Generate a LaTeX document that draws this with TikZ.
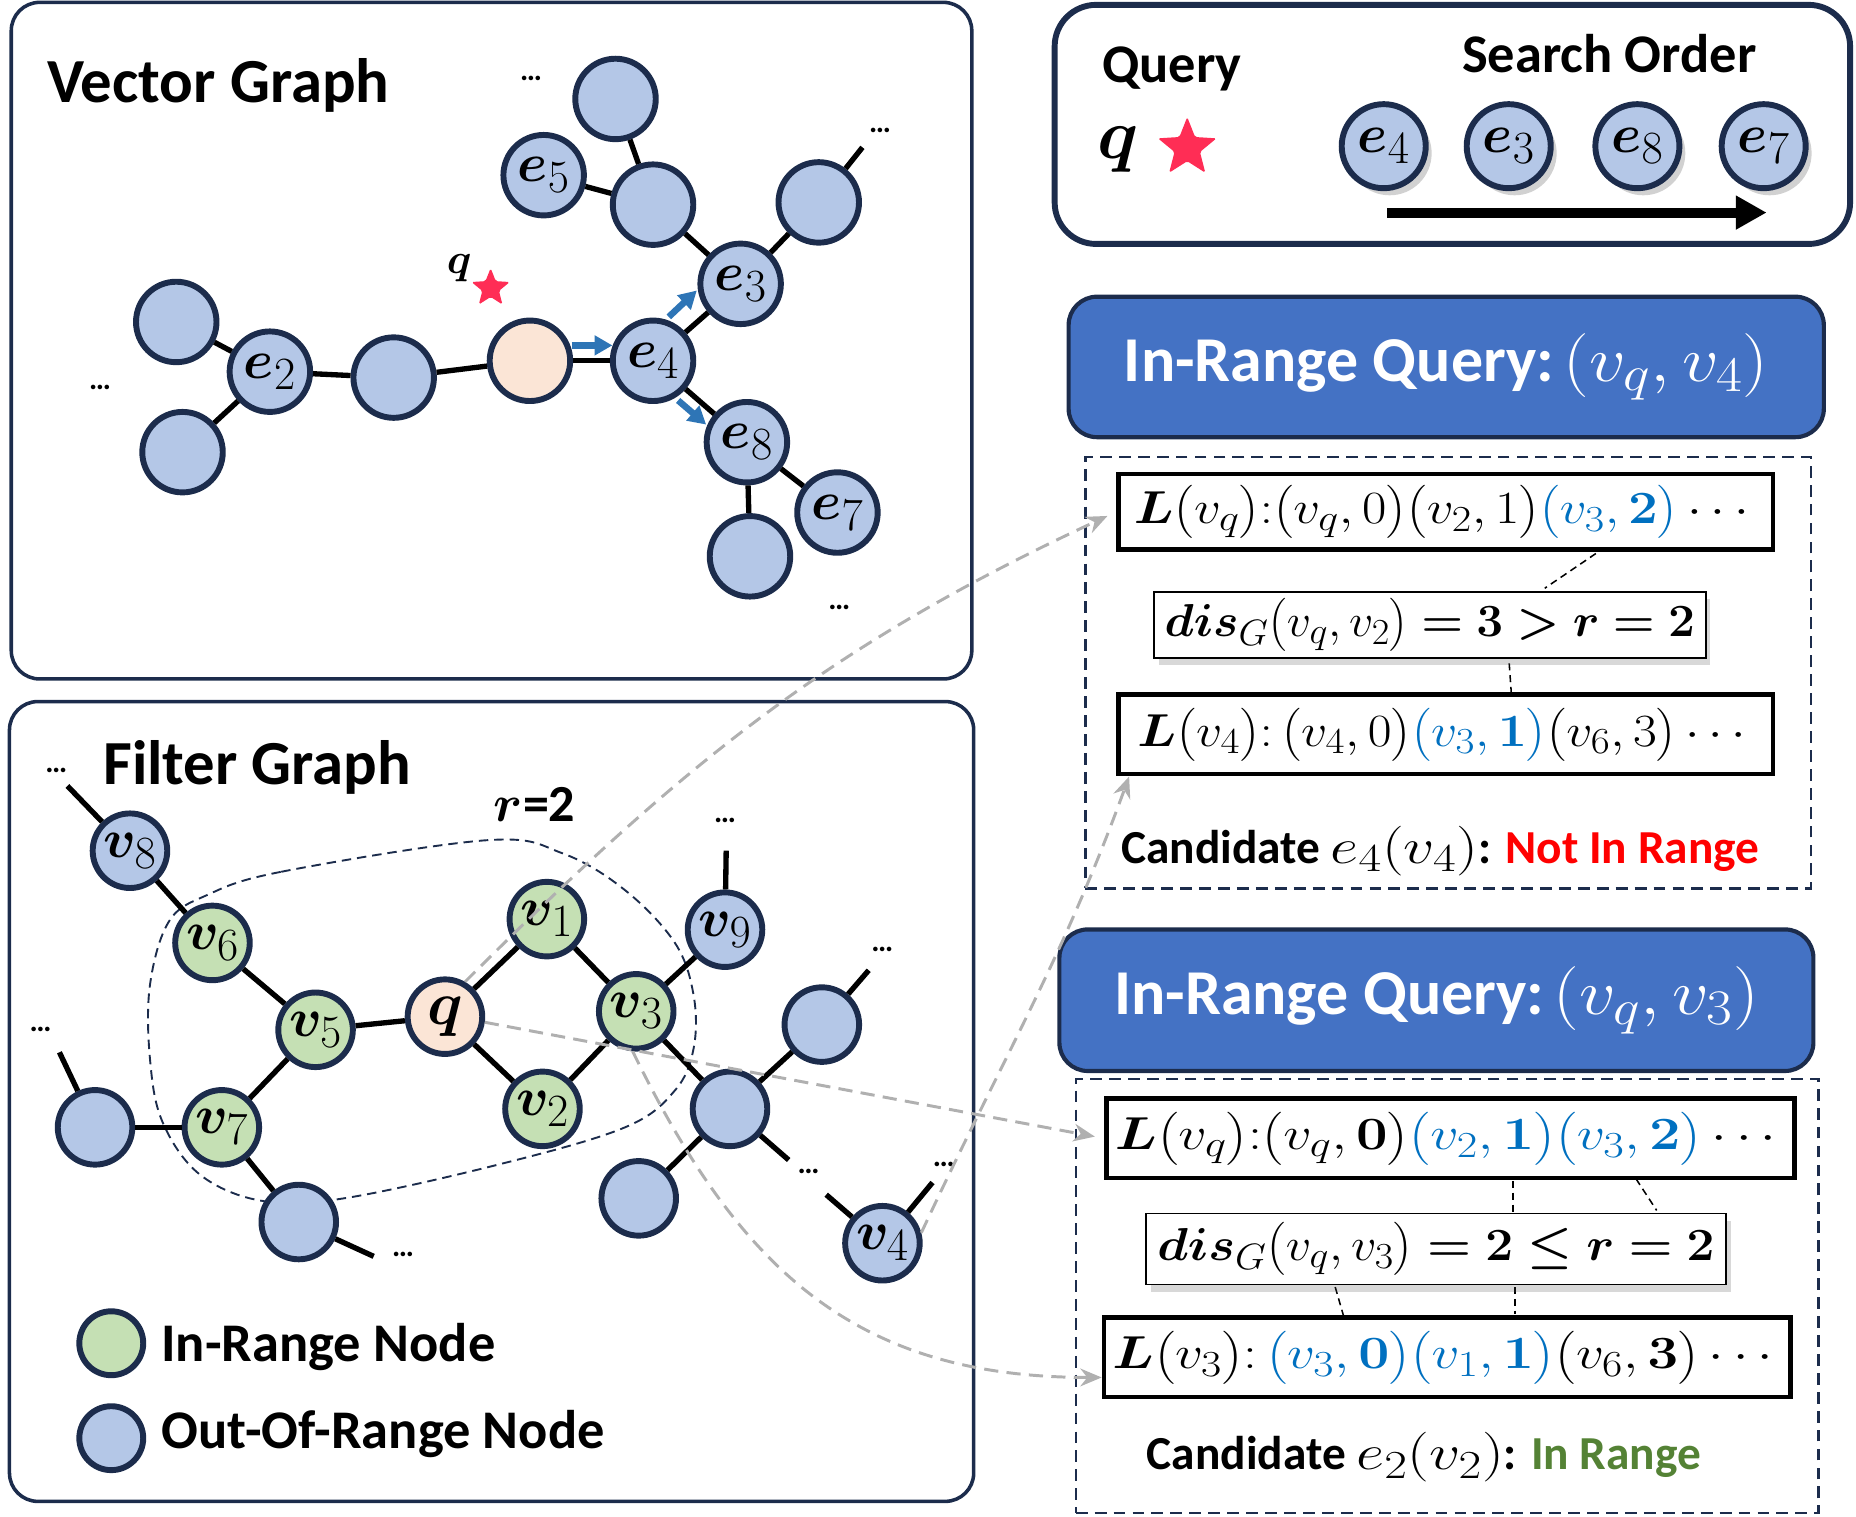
\RequirePackage{fix-cm}
\documentclass[tikz,border=0pt]{standalone}
\usepackage{amsmath}
\usepackage{bm}
\usepackage{graphicx}
\usepackage[no-math]{fontspec}
\setmainfont{Carlito}
\usetikzlibrary{shapes.geometric,arrows.meta,shadows,backgrounds}
\DeclareMathSizes{46}{46}{39}{30}
\DeclareMathSizes{52}{52}{42}{32}
\DeclareMathSizes{54}{54}{42}{32}
\DeclareMathSizes{39}{39}{31}{25}
\DeclareMathSizes{40}{40}{32}{26}
\DeclareMathSizes{44}{44}{35}{28}
\DeclareMathSizes{60}{60}{46}{36}
\DeclareMathSizes{36}{36}{28}{22}
\definecolor{navy}{HTML}{1C2C4C}
\definecolor{nblue}{HTML}{B4C7E7}
\definecolor{ngreen}{HTML}{C5E0B4}
\definecolor{npeach}{HTML}{FBE5D6}
\definecolor{boxblue}{HTML}{4472C4}
\definecolor{tblue}{HTML}{0070C0}
\definecolor{tgreen}{HTML}{548235}
\definecolor{arrblue}{HTML}{2E75B6}
\definecolor{starred}{HTML}{FF2D55}
\definecolor{ggray}{HTML}{B0B0B0}
\newcommand{\fsz}[1]{\fontsize{#1}{#1}\selectfont}
\begin{document}
\begin{tikzpicture}[x=1pt,y=-1pt,
  panel/.style={draw=navy, line width=3pt, rounded corners=24pt, inner sep=0pt},
  gnode/.style={circle, draw=navy, line width=5pt, fill=nblue, minimum size=68pt, inner sep=0pt, font=\fsz{46}},
  fnode/.style={gnode, minimum size=63pt},
  snode/.style={gnode, minimum size=71pt, drop shadow={shadow xshift=5pt, shadow yshift=-6pt, opacity=0.3, fill=black!60}},
  lgnode/.style={gnode, minimum size=54pt},
  link/.style={line width=4.5pt, black},
  dotlbl/.style={font=\fsz{26}\bfseries, inner sep=0pt},
  barr/.style={line width=5.5pt, arrblue, -{Triangle[length=15pt,width=16pt]}},
  garr/.style={draw=ggray, line width=2.5pt, dash pattern=on 12pt off 7pt, -{Stealth[length=18pt,width=15pt]}},
  lbox/.style={draw=black, line width=4pt, inner sep=0pt, fill=white, font=\fsz{39}},
  disbox/.style={draw=black, line width=1.5pt, fill=white, inner sep=0pt, font=\fsz{39}, drop shadow={shadow xshift=4pt, shadow yshift=-6pt, opacity=0.22, fill=black!70}},
  qbox/.style={draw=navy, line width=3.5pt, fill=boxblue, rounded corners=24pt, text=white, font=\fsz{54}\bfseries, inner sep=0pt},
  dashbox/.style={draw=navy, line width=2pt, dash pattern=on 10pt off 6pt, inner sep=0pt},
  sdash/.style={black, line width=1.3pt, dash pattern=on 6pt off 4pt},
  ttl/.style={anchor=base west, inner sep=0pt, font=\fsz{53}\bfseries},
  cand/.style={anchor=base west, inner sep=0pt, font=\fsz{40}\bfseries},
  starnode/.style={star, star points=5, star point ratio=2.3, fill=starred, inner sep=0pt, rounded corners=1.5pt}]
\useasboundingbox (0,0) rectangle (1568,1281);

% ---------------- panels
\node[panel, minimum width=811.5pt, minimum height=571.6pt] (vp) at (415.25,287.8) {};
\node[panel, minimum width=814.6pt, minimum height=675.7pt] (fp) at (415.3,930.55) {};
\node[draw=navy, line width=5pt, rounded corners=35pt, minimum width=672pt, minimum height=202pt, inner sep=0pt] (qp) at (1227,105.1) {};

% ---------------- vector graph
\node[ttl] (vt) at (39.6,86.2) {Vector Graph};
\node[gnode] (tb) at (520,83.6) {};
\node[gnode] (e5) at (459.3,148) {$\bm{e}_{5}$};
\node[gnode] (b1) at (551.7,172.9) {};
\node[gnode] (rb) at (691.7,171) {};
\node[gnode] (e3) at (625.7,239.8) {$\bm{e}_{3}$};
\node[gnode] (e4) at (551.7,304.8) {$\bm{e}_{4}$};
\node[gnode, fill=npeach] (pk) at (447.7,304.8) {};
\node[gnode] (m) at (332.6,319) {};
\node[gnode] (e2) at (228,314) {$\bm{e}_{2}$};
\node[gnode] (tl) at (148.9,272) {};
\node[gnode] (bl) at (154.2,382) {};
\node[gnode] (e8) at (631,373.6) {$\bm{e}_{8}$};
\node[gnode] (e7) at (707.5,433) {$\bm{e}_{7}$};
\node[gnode] (bb) at (633.6,470) {};
\coordinate (rbe) at (728.6,124.5);
\node[dotlbl] (vd1) at (448.7,66) {…};
\node[dotlbl] (vd2) at (743.5,110) {…};
\node[dotlbl] (vd3) at (84.5,327.5) {…};
\node[dotlbl] (vd4) at (709,513.6) {…};
\draw[link] (tl) -- (e2);
\draw[link] (bl) -- (e2);
\draw[link] (e2) -- (m);
\draw[link] (m) -- (pk);
\draw[link] (pk) -- (e4);
\draw[link] (e4) -- (e3);
\draw[link] (e3) -- (b1);
\draw[link] (e3) -- (rb);
\draw[link] (b1) -- (e5);
\draw[link] (b1) -- (tb);
\draw[link] (e4) -- (e8);
\draw[link] (e8) -- (e7);
\draw[link] (e8) -- (bb);
\draw[link] (rb) -- (rbe);
\node[starnode, minimum size=34pt] (vs) at (414.5,243.5) {};
\node[font=\fsz{36}, anchor=base, inner sep=0pt] (vq) at (388,231) {$\bm{q}$};
\coordinate (ba1) at (483,291.8); \coordinate (ba2) at (517.4,291.8);
\coordinate (bb1) at (565,267.7); \coordinate (bb2) at (588.7,245.4);
\coordinate (bc1) at (572.9,338.3); \coordinate (bc2) at (596.6,358.7);
\draw[barr] (ba1) -- (ba2);
\draw[barr] (bb1) -- (bb2);
\draw[barr] (bc1) -- (bc2);

% ---------------- filter graph
\node[ttl] (ft) at (87,663) {Filter Graph};
\draw[navy, line width=1.6pt, dash pattern=on 8pt off 5pt] plot[smooth cycle, tension=0.6] coordinates {(174.2,756.5) (237.6,736.5) (411.8,709.8) (475.2,720.9) (528,752) (570.2,796.6) (586,841) (586,885.6) (570.2,921.2) (528,952.4) (422.4,983.5) (290.4,1012.4) (221.8,1014.6) (169,992.4) (137.3,947.9) (126.7,894.5) (126.7,832.1) (142.6,778.7)};
\node[anchor=base west, inner sep=0pt, font=\fsz{44}\bfseries] (rl) at (417,694) {$\bm{r}$=2};
\node[fnode] (v8) at (109.8,718.7) {$\bm{v}_{8}$};
\node[fnode, fill=ngreen] (v6) at (179.5,796.6) {$\bm{v}_{6}$};
\node[fnode, fill=ngreen] (v5) at (266.6,870) {$\bm{v}_{5}$};
\node[fnode, fill=npeach, font=\fsz{52}] (qf) at (375.9,858.9) {$\bm{q}$};
\node[fnode, fill=ngreen] (v1) at (462,776.5) {$\bm{v}_{1}$};
\node[fnode, fill=ngreen] (v3) at (537.5,854.4) {$\bm{v}_{3}$};
\node[fnode, fill=ngreen] (v2) at (458.3,936.8) {$\bm{v}_{2}$};
\node[fnode] (v9) at (612.5,785.4) {$\bm{v}_{9}$};
\node[fnode, fill=ngreen] (v7) at (187.4,952.4) {$\bm{v}_{7}$};
\node[fnode] (fl) at (80.3,952.4) {};
\node[fnode] (fb) at (252.4,1032.4) {};
\node[fnode] (frc) at (616.7,936.8) {};
\node[fnode] (frt) at (694.3,865.6) {};
\node[fnode] (frb) at (539.6,1012.4) {};
\node[fnode] (v4) at (745.5,1050.3) {$\bm{v}_{4}$};
\coordinate (v8e) at (57,664);
\coordinate (fle) at (50.2,889);
\coordinate (fbe) at (315.7,1061.4);
\coordinate (v9e) at (613.5,718.7);
\coordinate (frte) at (733.9,819.7);
\coordinate (frce) at (666.3,980);
\coordinate (v4a) at (698,1009.3);
\coordinate (v4b) at (787.8,999);
\node[dotlbl] (fd1) at (47.5,650.6) {…};
\node[dotlbl] (fd2) at (34.3,870) {…};
\node[dotlbl] (fd3) at (340.5,1060) {…};
\node[dotlbl] (fd4) at (612.5,693.2) {…};
\node[dotlbl] (fd5) at (745.5,802.2) {…};
\node[dotlbl] (fd6) at (683,990) {…};
\node[dotlbl] (fd7) at (797.3,983.5) {…};
\draw[link] (v8) -- (v8e);
\draw[link] (v8) -- (v6);
\draw[link] (v6) -- (v5);
\draw[link] (v5) -- (qf);
\draw[link] (v5) -- (v7);
\draw[link] (v7) -- (fl);
\draw[link] (fl) -- (fle);
\draw[link] (v7) -- (fb);
\draw[link] (fb) -- (fbe);
\draw[link] (qf) -- (v1);
\draw[link] (qf) -- (v2);
\draw[link] (v1) -- (v3);
\draw[link] (v2) -- (v3);
\draw[link] (v3) -- (v9);
\draw[link] (v9) -- (v9e);
\draw[link] (v3) -- (frc);
\draw[link] (frc) -- (frt);
\draw[link] (frt) -- (frte);
\draw[link] (frc) -- (frb);
\draw[link] (frc) -- (frce);
\draw[link] (v4) -- (v4a);
\draw[link] (v4) -- (v4b);
% legend
\node[lgnode, fill=ngreen] (lg1) at (94,1134.8) {};
\node[lgnode] (lg2) at (94,1215) {};
\node[anchor=base west, inner sep=0pt, font=\fsz{46}\bfseries] (lt1) at (136.2,1150.4) {In-Range Node};
\node[anchor=base west, inner sep=0pt, font=\fsz{46}\bfseries] (lt2) at (136.2,1223.9) {Out-Of-Range Node};

% ---------------- query panel
\node[anchor=base west, inner sep=0pt, font=\fsz{46}\bfseries] (qt) at (931,70) {Query};
\node[anchor=base west, inner sep=0pt, font=\fsz{46}\bfseries] (so) at (1235,61) {Search Order};
\node[font=\fsz{60}, anchor=base, inner sep=0pt] (qq) at (944.5,134) {$\bm{q}$};
\node[starnode, minimum size=52pt] (qs) at (1003,124.9) {};
\node[snode] (s4) at (1169,123.5) {$\bm{e}_{4}$};
\node[snode] (s3) at (1274.6,123.5) {$\bm{e}_{3}$};
\node[snode] (s8) at (1383.3,123.5) {$\bm{e}_{8}$};
\node[snode] (s7) at (1490,123.5) {$\bm{e}_{7}$};
\coordinate (sa) at (1172,179.6);
\coordinate (sb) at (1492.5,179.6);
\draw[line width=8.4pt, -{Triangle[length=26pt,width=27pt]}] (sa) -- (sb);

% ---------------- query 1
\node[qbox, minimum width=638pt, minimum height=118.7pt] (t1) at (1221.8,310) {In-Range Query:\hspace{0.15em}\scalebox{1.13}[1]{$(v_q,v_4)$}};
\node[dashbox, minimum width=613pt, minimum height=364.2pt] (db1) at (1223.5,568.4) {};
\coordinate (c1a) at (1356.5,462); \coordinate (c1b) at (1305,497);
\coordinate (c1c) at (1275,560.4); \coordinate (c1d) at (1277.2,591.4);
\draw[sdash] (c1a) -- (c1b);
\draw[sdash] (c1c) -- (c1d);
\node[lbox, minimum width=553pt, minimum height=64pt] (lq1) at (1221.4,432.5) {\resizebox{527pt}{\height}{$\bm{L}\bigl(v_q\bigr){:}\bigl(v_q,0\bigr)\bigl(v_2,1\bigr){\color{tblue}\bigl(v_3,\bm{2}\bigr)}\cdots$}};
\node[disbox, minimum width=466pt, minimum height=56pt] (ds1) at (1208,528) {\resizebox{448pt}{\height}{$\bm{dis}_{G}\bigl(v_q,v_2\bigr)\mathrel{\bm{=}}\bm{3}\mathrel{\bm{>}}\bm{r}\mathrel{\bm{=}}\bm{2}$}};
\node[lbox, minimum width=553pt, minimum height=67pt] (lv4) at (1221.4,620.5) {\resizebox{521pt}{\height}{$\bm{L}\bigl(v_4\bigr){:}\,\bigl(v_4,0\bigr){\color{tblue}\bigl(v_3,\bm{1}\bigr)}\bigl(v_6,3\bigr)\cdots$}};
\node[cand] (cd1) at (947,729.4) {Candidate \scalebox{1.3}[1.05]{$e_4(v_4)$}: \textcolor{red}{Not In Range}};

% ---------------- query 2
\node[qbox, minimum width=637pt, minimum height=119.6pt] (t2) at (1213.5,845) {In-Range Query:\hspace{0.15em}\scalebox{1.13}[1]{$(v_q,v_3)$}};
\node[dashbox, minimum width=627.6pt, minimum height=366.8pt] (db2) at (1222.6,1094.8) {};
\coordinate (c2a) at (1278,997.6); \coordinate (c2b) at (1278,1024.3);
\coordinate (c2c) at (1280,1087.3); \coordinate (c2d) at (1280,1110.5);
\coordinate (c2e) at (1382.2,996); \coordinate (c2f) at (1399.6,1022.6);
\coordinate (c2g) at (1128,1087.3); \coordinate (c2h) at (1139,1125.4);
\draw[sdash] (c2a) -- (c2b);
\draw[sdash] (c2c) -- (c2d);
\draw[sdash] (c2e) -- (c2f);
\draw[sdash] (c2g) -- (c2h);
\node[lbox, minimum width=581pt, minimum height=67pt] (lq2) at (1225.3,961.7) {\resizebox{567pt}{\height}{$\bm{L}\bigl(v_q\bigr){:}\bigl(v_q,\bm{0}\bigr){\color{tblue}\bigl(v_2,\bm{1}\bigr)\bigl(v_3,\bm{2}\bigr)}\cdots$}};
\node[disbox, minimum width=490pt, minimum height=60pt] (ds2) at (1213.2,1055.2) {\resizebox{471pt}{\height}{$\bm{dis}_{G}\bigl(v_q,v_3\bigr)\mathrel{\bm{=}}\bm{2}\mathrel{\bm{\le}}\bm{r}\mathrel{\bm{=}}\bm{2}$}};
\node[lbox, minimum width=580pt, minimum height=67pt] (lv3) at (1222.7,1146.7) {\resizebox{566pt}{\height}{$\bm{L}\bigl(v_3\bigr){:}\,{\color{tblue}\bigl(v_3,\bm{0}\bigr)\bigl(v_1,\bm{1}\bigr)}\bigl(v_6,\bm{3}\bigr)\cdots$}};
\node[cand] (cd2) at (968.7,1241.6) {Candidate \scalebox{1.3}[1.05]{$e_2(v_2)$}: \textcolor{tgreen}{In Range}};

% ---------------- gray dashed connectors
\draw[garr, shorten >=8pt] (qf.60) to[out=45,in=205] (lq1.west);
\draw[garr, shorten >=8pt] (qf.-8) -- (lq2.west);
\draw[garr] (v3.-95) to[out=-64,in=180,looseness=1.1] ([yshift=-17pt]lv3.west);
\draw[garr] (v4.15) to[out=65,in=250] ([xshift=11pt]lv4.south west);
\end{tikzpicture}
\end{document}
